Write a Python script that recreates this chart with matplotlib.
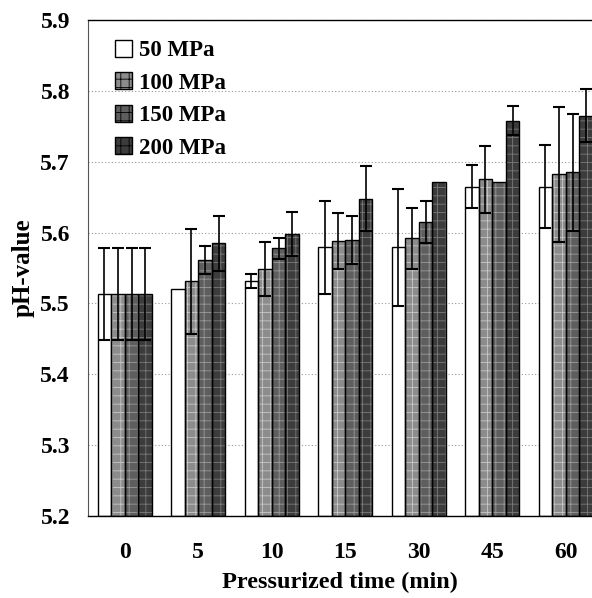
import numpy as np
import matplotlib.pyplot as plt

# -------------------------------------------------------
# Data
# -------------------------------------------------------
times = ['0', '5', '10', '15', '30', '45', '60']
series = ['50 MPa', '100 MPa', '150 MPa', '200 MPa']

ph_50 = [5.513, 5.521, 5.532, 5.579, 5.579, 5.665, 5.665]
ph_100 = [5.513, 5.531, 5.548, 5.588, 5.592, 5.675, 5.682]
ph_150 = [5.513, 5.561, 5.578, 5.589, 5.615, 5.671, 5.685]
ph_200 = [5.513, 5.585, 5.598, 5.648, 5.671, 5.758, 5.765]

err_50 = [0.065, 0.0, 0.010, 0.065, 0.083, 0.030, 0.058]
err_100 = [0.065, 0.074, 0.038, 0.040, 0.043, 0.047, 0.095]
err_150 = [0.065, 0.020, 0.015, 0.034, 0.030, 0.0, 0.083]
err_200 = [0.065, 0.039, 0.031, 0.046, 0.0, 0.021, 0.037]

values = [ph_50, ph_100, ph_150, ph_200]
errors = [err_50, err_100, err_150, err_200]

# -------------------------------------------------------
# Styles
# -------------------------------------------------------
plt.rcParams['font.family'] = ['Liberation Serif', 'DejaVu Serif']
plt.rcParams['font.weight'] = 'bold'
plt.rcParams['hatch.linewidth'] = 0.6

face = ['#ffffff', '#8c8c8c', '#5e5e5e', '#3c3c3c']
hatches = [None, '++', '++', '++']
hatch_col = ['black', '#c8c8c8', '#9a9a9a', '#7a7a7a']

fig = plt.figure(figsize=(5.92, 5.98), dpi=100)
ax = fig.add_axes([88 / 592, 82 / 598, 1 - 88 / 592, 496 / 598])

x = np.arange(len(times))
w = 0.184
offsets = (np.arange(4) - 1.5) * w

for k in range(4):
    xs = x + offsets[k]
    # hatched fill
    ax.bar(xs, np.array(values[k]) - 5.2, w, bottom=5.2, color=face[k],
           hatch=hatches[k], edgecolor=hatch_col[k], linewidth=0, zorder=2,
           label=series[k])
    # outline
    ax.bar(xs, np.array(values[k]) - 5.2, w, bottom=5.2, fill=False,
           edgecolor='black', linewidth=1.0, zorder=3)
    e = np.array(errors[k])
    m = e > 0
    ax.errorbar(xs[m], np.array(values[k])[m], yerr=e[m], fmt='none',
                ecolor='black', elinewidth=1.2, capsize=4, capthick=1.5,
                zorder=4)

ax.set_xlim(-0.5, (592 - 88) / 73.5 - 0.5)
ax.set_ylim(5.2, 5.9)
ax.set_yticks(np.arange(5.2, 5.91, 0.1))
ax.set_yticklabels(['%.1f' % v for v in np.arange(5.2, 5.91, 0.1)])
ax.set_xticks(x)
ax.set_xticklabels(times)
ax.tick_params(axis='both', length=0, labelsize=17)
ax.tick_params(axis='y', pad=13)
ax.tick_params(axis='x', pad=19)

ax.yaxis.grid(True, linestyle=(0, (1, 2)), color='#999999', linewidth=0.8)
ax.set_axisbelow(True)

ax.spines['right'].set_visible(False)
ax.spines['left'].set_color('#555555')
for s in ['top', 'bottom']:
    ax.spines[s].set_linewidth(1.0)

ax.set_ylabel('pH-value', fontsize=18, fontweight='bold', labelpad=4)
ax.set_xlabel('Pressurized time (min)', fontsize=17.5, fontweight='bold',
              labelpad=6)

handles, labels = ax.get_legend_handles_labels()
leg = ax.legend(handles[:4], labels[:4], loc='upper left',
                bbox_to_anchor=(0.036, 0.978), frameon=False, fontsize=16.5,
                handlelength=0.75, handleheight=0.75, handletextpad=0.3,
                labelspacing=0.48, borderaxespad=0)
for p in leg.get_patches():
    p.set_edgecolor('black')
    p.set_linewidth(1.0)

fig.savefig('out.png', dpi=100)
